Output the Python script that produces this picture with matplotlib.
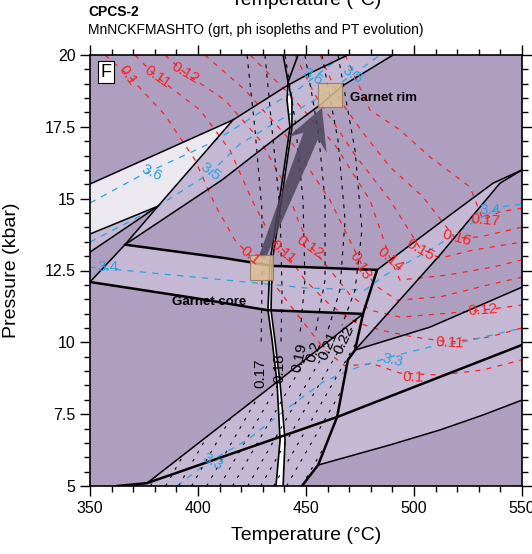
import numpy as np
import matplotlib
matplotlib.use("Agg")
import matplotlib.pyplot as plt
from matplotlib.patches import Polygon, Rectangle
from matplotlib.ticker import MultipleLocator, FuncFormatter

plt.rcParams['font.family'] = ['Liberation Sans', 'DejaVu Sans']

# ---- field colours
DARK = '#ae9fc1'
LAV = '#c4b8d4'
PALE = '#ece8f0'
RED = '#ff1f1f'
BLUE = '#2aa3e0'

# ---- field boundaries (T in degC, P in kbar)
upper_band_T = [350, 416.2, 440.3, 451.9, 469.4]
upper_band_P = [15.51, 17.74, 18.89, 19.37, 20.0]
line_b_T = [350, 381.5]
line_b_P = [13.77, 14.74]
line_c_T = [350, 381.5]
line_c_P = [13.14, 14.74]
diag_T = [350, 366.2, 381.5, 416.2]
diag_P = [12.10, 13.40, 14.74, 17.74]
lower_band_T = [366.2, 411.1, 442.6, 456.5, 466.7, 490.3]
lower_band_P = [13.40, 15.65, 17.49, 18.26, 18.92, 20.0]
core_top_T = [366.2, 412.5, 434.7, 482.9]
core_top_P = [13.40, 12.93, 12.66, 12.52]
core_bot_T = [350, 398.6, 432.0, 476.4]
core_bot_P = [12.10, 11.54, 11.12, 10.99]
steep_T = [482.9, 476.4, 472.7, 469.4, 464.4, 455.6, 448.1]
steep_P = [12.52, 10.99, 9.73, 9.39, 7.40, 5.73, 5.00]
wedge_top_T = [482.9, 516.7, 536.6, 550]
wedge_top_P = [12.52, 14.43, 15.54, 16.0]
wedge_bot_T = [472.7, 512.0, 539.8, 550]
wedge_bot_P = [9.73, 13.04, 15.54, 16.0]
right_mid_T = [472.7, 507.4, 550]
right_mid_P = [9.73, 10.53, 11.92]
thick_low_T = [362.5, 376.4, 438.0, 464.4, 531.9, 550]
thick_low_P = [5.0, 5.10, 6.71, 7.40, 9.38, 9.91]
mid_diag_T = [376.4, 434.7, 476.4]
mid_diag_P = [5.10, 8.51, 10.99]
low_thin_T = [455.6, 488.9, 512.0, 531.9, 550]
low_thin_P = [5.73, 6.43, 6.95, 7.47, 7.99]
central_P = np.array([20.0, 19.06, 18.43, 17.49, 15.82, 13.91, 12.80, 11.12, 10.08, 8.58, 6.60, 5.00])
central1_T = np.array([439.4, 441.7, 441.2, 442.6, 439.4, 435.6, 433.3, 432.4, 434.3, 436.6, 438.0, 436.1])
central2_T = np.array([446.3, 441.7, 443.5, 443.5, 440.3, 436.6, 434.3, 433.8, 435.6, 438.0, 440.3, 439.4])

# ---- coloured fields
pale_T = [350, 416.2, 381.5, 350]
pale_P = [15.51, 17.74, 14.74, 13.77]
band_T = [350, 381.5, 416.2, 440.3, 451.9, 469.4, 490.3, 466.7, 456.5, 442.6, 411.1, 366.2, 381.5, 350]
band_P = [13.77, 14.74, 17.74, 18.89, 19.37, 20.0, 20.0, 18.92, 18.26, 17.49, 15.65, 13.40, 14.74, 13.14]
core_T = [350, 366.2, 412.5, 434.7, 482.9, 476.4, 432.0, 398.6]
core_P = [12.10, 13.40, 12.93, 12.66, 12.52, 10.99, 11.12, 11.54]
wedge_T = [482.9, 516.7, 536.6, 550, 539.8, 512.0, 472.7, 476.4]
wedge_P = [12.52, 14.43, 15.54, 16.0, 15.54, 13.04, 9.73, 10.99]
low_T = [376.4, 434.7, 476.4, 472.7, 507.4, 550, 550, 531.9, 512.0, 488.9, 455.6, 448.1, 376.4]
low_P = [5.10, 8.51, 10.99, 9.73, 10.53, 11.92, 7.99, 7.47, 6.95, 6.43, 5.73, 5.0, 5.0]
ticks_T = [376.4, 434.7, 476.4, 472.7, 469.4, 464.4, 455.6, 448.1, 376.4]
ticks_P = [5.10, 8.51, 10.99, 9.73, 9.39, 7.40, 5.73, 5.0, 5.0]

# ---- garnet isopleths (red)
red_iso = {
    '0.10': ([356.9, 367.6, 384.7, 398.6, 407.9, 417.1, 425.0, 435.6, 447.2, 458.8, 468.1, 481.0, 493.5, 512.0, 531.9, 550],
             [20.0, 19.30, 17.91, 16.35, 14.78, 13.56, 12.93, 11.99, 10.85, 9.73, 9.18, 9.25, 8.93, 8.86, 9.04, 9.39]),
    '0.11': ([370.8, 381.0, 400.9, 414.8, 425.0, 433.3, 440.3, 449.5, 461.1, 472.7, 484.3, 499.5, 516.7, 535.2, 550],
             [20.0, 19.23, 18.09, 16.69, 14.95, 13.74, 13.14, 12.17, 11.30, 10.71, 10.43, 10.19, 10.01, 10.19, 10.50]),
    '0.12': ([384.7, 394.0, 412.5, 428.7, 440.3, 447.2, 452.8, 461.1, 470.4, 479.6, 493.5, 512.0, 531.9, 550],
             [20.0, 19.37, 18.43, 17.04, 15.48, 14.08, 13.28, 12.52, 11.65, 11.12, 10.88, 10.99, 11.12, 11.30]),
    '0.13': ([403.2, 421.8, 442.6, 461.1, 471.3, 475.9, 481.9, 492.1, 512.0, 530.6, 550],
             [20.0, 18.78, 17.04, 14.95, 13.39, 12.69, 11.99, 11.47, 11.58, 11.93, 12.27]),
    '0.14': ([424.1, 442.6, 463.4, 479.6, 488.9, 493.5, 515.3, 536.6, 550],
             [20.0, 18.61, 16.87, 14.95, 12.93, 12.17, 12.34, 12.62, 12.87]),
    '0.15': ([444.9, 454.2, 472.7, 488.9, 502.8, 512.0, 527.3, 550],
             [20.0, 18.61, 16.52, 14.95, 13.28, 12.93, 13.21, 13.49]),
    '0.16': ([456.5, 465.7, 476.4, 488.9, 504.2, 519.0, 530.6, 550],
             [20.0, 18.43, 17.29, 16.10, 15.06, 13.63, 13.67, 14.01]),
    '0.17': ([468.1, 479.6, 493.5, 507.4, 525.9, 531.9, 539.8, 550],
             [20.0, 18.09, 17.39, 16.45, 15.41, 14.26, 14.54, 14.67]),
}
red_lbl_text = ['0.1', '0.11', '0.12', '0.1', '0.11', '0.12', '0.13', '0.14', '0.15', '0.16', '0.17', '0.12', '0.11', '0.1']
red_lbl_T = [367.6, 381.0, 394.0, 424.1, 439.4, 451.9, 475.0, 488.9, 502.8, 519.9, 532.9, 531.9, 516.7, 499.5]
red_lbl_P = [19.30, 19.23, 19.37, 13.00, 13.14, 13.32, 12.66, 12.87, 13.21, 13.63, 14.26, 11.12, 9.98, 8.79]
red_lbl_rot = [-55, -35, -30, -40, -40, -35, -60, -40, -30, -15, -5, 4, -3, -2]

# ---- phengite isopleths (black)
black_iso = {
    '0.17': ([422.7, 426.4, 429.6, 429.6, 429.2], [20.0, 17.39, 14.61, 11.82, 9.91]),
    '0.18': ([431.0, 434.3, 438.0, 438.9, 438.4], [20.0, 17.39, 14.61, 11.82, 9.91]),
    '0.19': ([440.3, 444.9, 448.6, 449.5, 447.2], [20.0, 17.74, 14.95, 12.17, 10.26]),
    '0.2': ([449.5, 455.6, 458.8, 458.8, 454.2], [20.0, 17.39, 14.95, 12.17, 10.26]),
    '0.21': ([457.4, 464.8, 468.1, 465.7, 460.2], [20.0, 17.04, 14.26, 11.82, 10.43]),
    '0.22': ([464.8, 472.7, 475.9, 472.7, 466.7], [20.0, 16.69, 13.91, 11.82, 10.60]),
}
black_lbl_T = [428.7, 437.5, 446.8, 453.7, 460.2, 467.6]
black_lbl_P = [8.93, 9.11, 9.46, 9.66, 9.87, 10.08]
black_lbl_rot = [90, 90, 78, 72, 68, 65]
# short-dashed isopleths in the lower field: T at 5 kbar and at 11 kbar
low_iso_T5 = [372, 378, 385, 391, 397, 404, 410, 416, 423, 429, 435, 441, 448, 454, 460]
low_iso_T11 = [418, 424, 431, 437, 443, 450, 456, 462, 469, 475, 481, 487, 494, 500, 506]

# ---- Si isopleths (blue)
blue_iso = {
    '3.6': ([350, 373.1, 406.9, 419.4, 434.7, 447.2, 461.1, 468.1],
            [14.85, 15.79, 16.97, 17.56, 18.29, 18.85, 19.65, 20.0]),
    '3.5': ([350, 378.7, 405.6, 419.4, 434.7, 456.5, 471.3, 484.3],
            [13.49, 14.61, 15.89, 16.90, 17.60, 18.54, 19.30, 20.0]),
    '3.4': ([350, 412.5, 450.5, 477.3, 486.6, 507.4, 529.2, 539.8, 550],
            [12.62, 12.17, 11.89, 11.82, 12.34, 13.21, 14.26, 14.71, 14.81]),
    '3.3': ([390.3, 404.2, 422.7, 440.3, 457.9, 470.4, 488.9, 507.4, 522.7, 550],
            [5.0, 5.80, 6.60, 7.64, 8.62, 9.04, 9.49, 9.84, 10.01, 10.50]),
}
blue_lbl_text = ['3.6', '3.5', '3.6', '3.5', '3.4', '3.4', '3.3', '3.3']
blue_lbl_T = [378.7, 405.6, 453.2, 471.3, 358.3, 535.2, 406.9, 490.3]
blue_lbl_P = [15.89, 15.93, 19.23, 19.30, 12.62, 14.61, 5.83, 9.39]
blue_lbl_rot = [-25, -35, -30, -35, 0, 0, -30, -12]

# ---- PT path
core_TP = (429.6, 12.93)
rim_TP = (457.4, 18.16)
core_box = (424.1, 12.17, 10.6, 0.87)
rim_box = (455.6, 18.19, 11.1, 0.84)

fig = plt.figure(figsize=(5.32, 5.54), dpi=100)
ax = fig.add_axes([90 / 532, 68 / 554, 432 / 532, 431 / 554])
ax.set_xlim(350, 550)
ax.set_ylim(5, 20)
ax.set_facecolor(DARK)

# fields
ax.fill(band_T, band_P, color=LAV, lw=0, zorder=0.5)
ax.fill(pale_T, pale_P, color=PALE, lw=0, zorder=0.6)
ax.fill(core_T, core_P, color=LAV, lw=0, zorder=0.5)
ax.fill(wedge_T, wedge_P, color=LAV, lw=0, zorder=0.5)
ax.fill(low_T, low_P, color=LAV, lw=0, zorder=0.5)
ax.fill_betweenx(central_P, central1_T, central2_T, where=central_P <= 19.1,
                 color='white', lw=0, zorder=0.7)

# isopleths
for key, (t, p) in red_iso.items():
    ax.plot(t, p, color=RED, lw=0.9, dashes=(4, 5), zorder=2)
for key, (t, p) in blue_iso.items():
    ax.plot(t, p, color=BLUE, lw=0.9, dashes=(5, 5), zorder=2)
for key, (t, p) in black_iso.items():
    ax.plot(t, p, color='black', lw=0.8, dashes=(3.5, 5), zorder=2)

clip = Polygon(np.column_stack([ticks_T, ticks_P]), closed=True, transform=ax.transData,
               facecolor='none', edgecolor='none')
ax.add_patch(clip)
for t0, t1 in zip(low_iso_T5, low_iso_T11):
    ln, = ax.plot([t0, t1], [5, 11], color='black', lw=0.8, dashes=(2.5, 6), zorder=2)
    ln.set_clip_path(clip)

# boundaries
thin = dict(color='black', lw=1.1, zorder=3, solid_capstyle='round')
thick = dict(color='black', lw=1.8, zorder=3, solid_capstyle='round')
for t, p in [(upper_band_T, upper_band_P), (line_b_T, line_b_P), (line_c_T, line_c_P),
             (diag_T, diag_P), (lower_band_T, lower_band_P), (wedge_top_T, wedge_top_P),
             (wedge_bot_T, wedge_bot_P), (right_mid_T, right_mid_P), (mid_diag_T, mid_diag_P),
             (low_thin_T, low_thin_P)]:
    ax.plot(t, p, **thin)
for t, p in [(core_top_T, core_top_P), (core_bot_T, core_bot_P), (steep_T, steep_P),
             (thick_low_T, thick_low_P)]:
    ax.plot(t, p, **thick)
ax.plot(central1_T, central_P, color='black', lw=1.2, zorder=3)
ax.plot(central2_T, central_P, color='black', lw=1.2, zorder=3)

# PT arrow (built in display space so it keeps its shape)
tail = ax.transData.transform(core_TP)
tip = ax.transData.transform(rim_TP)
d = (tip - tail) / np.hypot(*(tip - tail))
n = np.array([-d[1], d[0]])
join = tip - d * 30
barb = tip - d * 40
pts = [tail + n * 3.5, join + n * 8, barb + n * 21, tip, barb - n * 21, join - n * 8, tail - n * 3.5]
pts = ax.transData.inverted().transform(np.array(pts))
ax.add_patch(Polygon(pts, closed=True, facecolor='#4d465c', edgecolor='none', alpha=0.85, zorder=4))

for x0, y0, w, h in [core_box, rim_box]:
    ax.add_patch(Rectangle((x0, y0), w, h, facecolor='#dcbf94', edgecolor='#8f7a5c',
                           lw=0.8, alpha=0.85, zorder=5))

# labels
for s, t, p, r in zip(red_lbl_text, red_lbl_T, red_lbl_P, red_lbl_rot):
    ax.text(t, p, s, color=RED, fontsize=11, rotation=r, ha='center', va='center',
            rotation_mode='anchor', zorder=6)
for s, t, p, r in zip(black_iso.keys(), black_lbl_T, black_lbl_P, black_lbl_rot):
    ax.text(t, p, s, color='black', fontsize=11, rotation=r, ha='center', va='center',
            rotation_mode='anchor', zorder=6)
for s, t, p, r in zip(blue_lbl_text, blue_lbl_T, blue_lbl_P, blue_lbl_rot):
    ax.text(t, p, s, color=BLUE, fontsize=11, rotation=r, ha='center', va='center',
            rotation_mode='anchor', zorder=6)

ax.text(470.5, 18.5, 'Garnet rim', fontsize=9.5, fontweight='bold', va='center', zorder=6)
ax.text(405.0, 11.42, 'Garnet core', fontsize=9.5, fontweight='bold', ha='center', va='center', zorder=6)
ax.text(357.3, 19.4, 'F', fontsize=13, ha='center', va='center', zorder=6,
        bbox=dict(boxstyle='square,pad=0.15', facecolor='white', edgecolor='black', lw=0.8))

# axes
ax.xaxis.set_major_locator(MultipleLocator(50))
ax.xaxis.set_minor_locator(MultipleLocator(10))
ax.yaxis.set_major_locator(MultipleLocator(2.5))
ax.yaxis.set_minor_locator(MultipleLocator(0.5))
ax.yaxis.set_major_formatter(FuncFormatter(lambda v, pos: '%g' % v))
ax.tick_params(which='both', direction='out', top=True, right=True, width=1, labelsize=11.5)
ax.tick_params(which='major', length=7)
ax.tick_params(which='minor', length=4)
for sp in ax.spines.values():
    sp.set_linewidth(1.2)

ax.set_xlabel('Temperature (°C)', fontsize=14)
ax.set_ylabel('Pressure (kbar)', fontsize=14)
ax.xaxis.set_label_coords(0.5, -0.095)
ax.yaxis.set_label_coords(-0.162, 0.5)

fig.text(306 / 532, 1 - 5 / 554, 'Temperature (°C)', fontsize=14, ha='center', va='baseline')
fig.text(88 / 532, 1 - 12 / 554, 'CPCS-2', fontsize=10, fontweight='bold', va='center')
fig.text(88 / 532, 1 - 30 / 554, 'MnNCKFMASHTO (grt, ph isopleths and PT evolution)',
         fontsize=10, va='center')

fig.savefig('out.png', dpi=100)
